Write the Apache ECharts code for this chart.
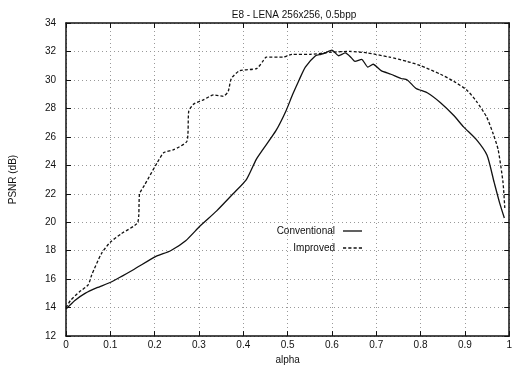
<!DOCTYPE html>
<html>
<head>
<meta charset="utf-8">
<script src="https://cdn.jsdelivr.net/npm/echarts@6/dist/echarts.min.js"></script>
<style>
  html, body {margin: 0; padding: 0; background: #fff;}
  #main {width: 515px; height: 370px;}
</style>
</head>
<body>
<div id="main"></div>
<script>
// values
const convAlpha = [0, 0.02, 0.043, 0.07, 0.102, 0.154, 0.203, 0.236, 0.27, 0.303, 0.34, 0.377, 0.407, 0.429, 0.444, 0.474, 0.496, 0.511, 0.526, 0.54, 0.563, 0.575, 0.585, 0.6, 0.615, 0.63, 0.644, 0.652, 0.667, 0.681, 0.693, 0.711, 0.733, 0.756, 0.77, 0.79, 0.815, 0.845, 0.875, 0.897, 0.926, 0.95, 0.966, 0.978, 0.989];
const convPsnr = [13.9, 14.5, 15.0, 15.4, 15.8, 16.7, 17.6, 18.0, 18.7, 19.75, 20.8, 22.0, 23.0, 24.4, 25.1, 26.45, 27.8, 28.95, 30.0, 30.9, 31.7, 31.8, 31.9, 32.1, 31.7, 31.9, 31.55, 31.3, 31.45, 30.9, 31.1, 30.65, 30.4, 30.1, 30.0, 29.4, 29.1, 28.4, 27.5, 26.7, 25.8, 24.7, 22.8, 21.4, 20.3];

const impAlpha = [0, 0.01, 0.03, 0.05, 0.058, 0.08, 0.1, 0.125, 0.162, 0.166, 0.177, 0.206, 0.221, 0.243, 0.273, 0.277, 0.288, 0.31, 0.333, 0.355, 0.366, 0.373, 0.392, 0.43, 0.444, 0.452, 0.49, 0.51, 0.55, 0.6, 0.64, 0.68, 0.73, 0.77, 0.8, 0.845, 0.875, 0.904, 0.926, 0.949, 0.964, 0.975, 0.986, 0.99];
const impPsnr = [14.0, 14.5, 15.1, 15.6, 16.3, 17.8, 18.6, 19.2, 20.0, 22.0, 22.6, 24.2, 24.9, 25.1, 25.7, 27.8, 28.3, 28.6, 28.95, 28.85, 29.2, 30.1, 30.65, 30.8, 31.3, 31.6, 31.6, 31.8, 31.8, 31.95, 32.0, 31.9, 31.6, 31.3, 31.0, 30.4, 29.9, 29.3, 28.5, 27.4, 26.2, 25.1, 22.8, 21.0];

const seriesNames = ['Conventional', 'Improved'];
const titleText = 'E8 - LENA 256x256, 0.5bpp';

const pairs = (xs, ys) => xs.map((x, i) => [x, ys[i]]);

const font = 'Liberation Sans, Arial, sans-serif';
const ink = '#111';

// legend samples: a solid stroke and a dashed one, drawn as thin filled bars
const solidIcon = 'path://M0,0h20v1.4h-20z';
const dashIcon = 'path://M0,0h3v1.4h-3zM5,0h3v1.4h-3zM10,0h3v1.4h-3zM15,0h3v1.4h-3z';

let myChart = echarts.init(document.getElementById('main'));

const baseAxis = {
    axisLine: {show: true, onZero: false, lineStyle: {color: ink, width: 1.5}},
    axisTick: {show: true, inside: true, length: 5, lineStyle: {color: ink, width: 1}},
};

const legendCommon = {
    right: 148,
    align: 'right',
    itemWidth: 19, itemHeight: 2, itemGap: 4,
    textStyle: {fontSize: 10, color: ink, padding: [0, 3, 0, 0]}
};

myChart.setOption({
    animation: false,
    backgroundColor: '#fff',
    textStyle: {fontFamily: font},
    title: {
        text: titleText,
        left: 289,
        textAlign: 'center',
        top: 5,
        textStyle: {fontSize: 10, fontWeight: 'normal', color: ink, fontFamily: font}
    },
    grid: {left: 64, right: 2, top: 23, bottom: 24},
    legend: [
        {...legendCommon, top: 221, data: [{name: seriesNames[0], icon: solidIcon}]},
        {...legendCommon, top: 238, data: [{name: seriesNames[1], icon: dashIcon}]}
    ],
    xAxis: [
        {
            ...baseAxis,
            type: 'value', min: 0, max: 1, interval: 0.1,
            name: 'alpha', nameLocation: 'middle', nameGap: 17,
            nameTextStyle: {fontSize: 10, color: ink},
            axisLabel: {fontSize: 10, color: ink, margin: 4},
            splitLine: {show: true, lineStyle: {color: '#999', type: [1, 3], width: 1}}
        },
        {
            ...baseAxis,
            type: 'value', min: 0, max: 1, interval: 0.1, position: 'top',
            axisLabel: {show: false}, splitLine: {show: false}
        }
    ],
    yAxis: [
        {
            ...baseAxis,
            type: 'value', min: 12, max: 34, interval: 2,
            name: 'PSNR (dB)', nameLocation: 'middle', nameGap: 48,
            nameTextStyle: {fontSize: 10, color: ink},
            axisLabel: {fontSize: 10, color: ink, margin: 10},
            splitLine: {show: true, lineStyle: {color: '#999', type: [1, 3], width: 1}}
        },
        {
            ...baseAxis,
            type: 'value', min: 12, max: 34, interval: 2, position: 'right',
            axisLabel: {show: false}, splitLine: {show: false}
        }
    ],
    series: [
        {
            name: seriesNames[0],
            type: 'line',
            data: pairs(convAlpha, convPsnr),
            symbol: 'none',
            smooth: 0.2,
            lineStyle: {color: ink, width: 1.3, type: 'solid'},
            itemStyle: {color: ink}
        },
        {
            name: seriesNames[1],
            type: 'line',
            data: pairs(impAlpha, impPsnr),
            symbol: 'none',
            smooth: 0.2,
            lineStyle: {color: ink, width: 1.3, type: [3, 2]},
            itemStyle: {color: ink}
        }
    ]
});
</script>
</body>
</html>
